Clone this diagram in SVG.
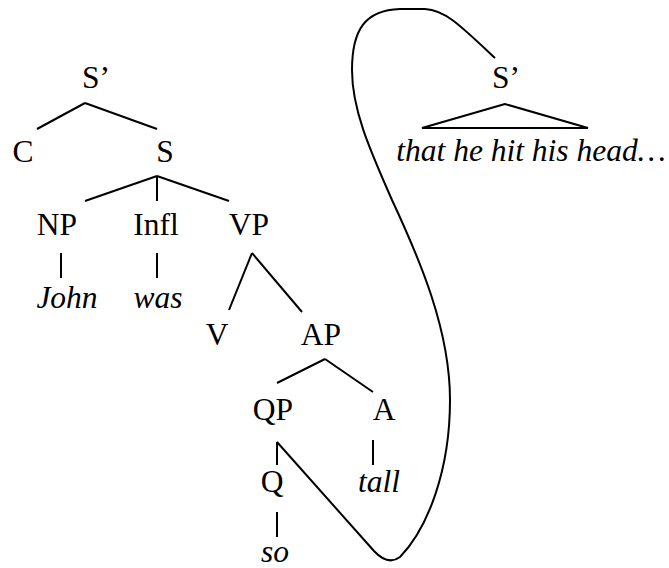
<svg xmlns="http://www.w3.org/2000/svg" width="669" height="568" viewBox="0 0 669 568">
<style>
text{font-family:"Liberation Serif","Times New Roman",serif;font-size:31.5px;fill:#000;text-anchor:middle}
.i{font-style:italic}
.e{stroke:#000;stroke-width:2;fill:none;stroke-linecap:butt}
</style>
<rect width="669" height="568" fill="#fff"/>
<g id="connectors" class="e">
<line x1="85" y1="103" x2="37" y2="129"/>
<line x1="85" y1="103" x2="157" y2="129"/>
<line x1="157" y1="176" x2="85" y2="201"/>
<line x1="157" y1="176" x2="157" y2="201"/>
<line x1="157" y1="176" x2="229" y2="201"/>
<line x1="61" y1="253" x2="61" y2="278"/>
<line x1="157" y1="253" x2="157" y2="278"/>
<line x1="252" y1="253" x2="229" y2="310"/>
<line x1="252" y1="253" x2="302" y2="312"/>
<line x1="325" y1="359" x2="277" y2="383"/>
<line x1="325" y1="359" x2="373" y2="392"/>
<line x1="373" y1="440" x2="373" y2="465"/>
<line x1="277" y1="442" x2="277" y2="465"/>
<line x1="277" y1="512" x2="277" y2="537"/>
<polygon points="505,104 422,128 588,128"/>
<path d="M277 442 L374 551 Q388 566 400 557 C428 528 450 470 450 400 C450 330 420 260 392 200 C370 150 352 110 352 70 C352 30 365 10 400 9 L425 9 C445 10 460 25 495 58"/>
</g>
<g id="n-Sbar"><text x="96" y="88">S’</text></g>
<g id="n-C"><text x="23" y="162">C</text></g>
<g id="n-S"><text x="165" y="162">S</text></g>
<g id="n-NP"><text x="57" y="235">NP</text></g>
<g id="n-Infl"><text x="156" y="235">Infl</text></g>
<g id="n-VP"><text x="249" y="235">VP</text></g>
<g id="n-John"><text class="i" x="67" y="308">John</text></g>
<g id="n-was"><text class="i" x="158" y="308">was</text></g>
<g id="n-V"><text x="217" y="345">V</text></g>
<g id="n-AP"><text x="321" y="345">AP</text></g>
<g id="n-QP"><text x="273" y="420">QP</text></g>
<g id="n-A"><text x="384" y="420">A</text></g>
<g id="n-Q"><text x="272" y="492">Q</text></g>
<g id="n-tall"><text class="i" x="379" y="492">tall</text></g>
<g id="n-so"><text class="i" x="275" y="562">so</text></g>
<g id="n-Sbar2"><text x="506" y="88">S’</text></g>
<g id="n-clause"><text class="i" x="531" y="161">that he hit his head…</text></g>
</svg>
